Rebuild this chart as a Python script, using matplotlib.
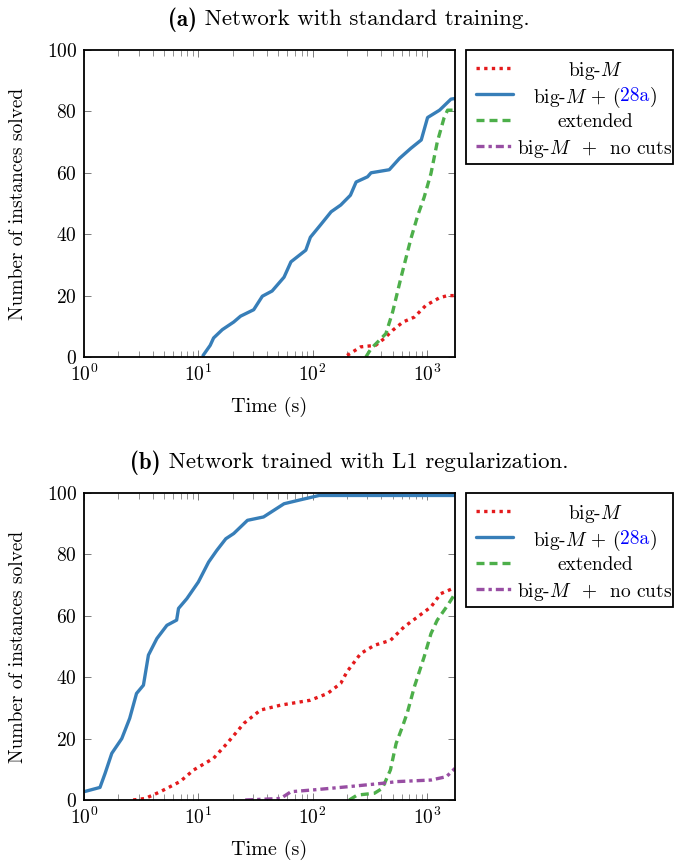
import matplotlib

matplotlib.use("Agg")

import matplotlib.pyplot as plt
from matplotlib.patches import Rectangle
from matplotlib.lines import Line2D

plt.rcParams["font.family"] = "cmr10"
plt.rcParams["mathtext.fontset"] = "cm"
plt.rcParams["axes.unicode_minus"] = False
plt.rcParams["axes.formatter.use_mathtext"] = True

# ---- data (time in seconds, number of instances solved) ----
# (a) standard training
a_bigm_t = [200, 263, 355, 422, 501, 617, 776, 977, 1288, 1514, 1758]
a_bigm_n = [0.5, 3.3, 3.8, 6, 8.7, 11.4, 13, 16.8, 19.3, 20, 20]

a_cut_t = [11.0, 12.7, 13.6, 16.2, 20.4, 23.4, 30.5, 36.3, 44.2, 56.2, 64.6, 87.1,
           95.5, 117, 145, 176, 214, 240, 302, 324, 468, 575, 724, 891, 1012,
           1288, 1622, 1758]
a_cut_n = [0.5, 3.8, 6.2, 8.9, 11.4, 13.3, 15.4, 19.8, 21.5, 26, 31, 34.8, 39, 43,
           47.3, 49.5, 52.7, 57, 58.7, 60, 61, 64.7, 68, 70.7, 78, 80.4, 84, 84.2]

a_ext_t = [292, 324, 437, 501, 589, 724, 832, 944, 1084, 1230, 1413, 1514, 1758]
a_ext_n = [0, 2.7, 7.6, 14.7, 25.5, 38.6, 46.2, 52, 59.8, 70, 78, 80.4, 80.4]

a_nocut_t = []
a_nocut_n = []

# (b) L1 regularization
b_bigm_t = [2.69, 3.43, 4.65, 6.92, 9.12, 13.6, 17.8, 25.1, 35.0, 52.5, 95.5, 135,
            176, 200, 263, 347, 479, 631, 832, 1084, 1318, 1758]
b_bigm_n = [0, 0.5, 2.7, 6, 9.8, 13.6, 18.4, 25, 29.3, 30.9, 32.5, 34.7, 38, 41.8,
            47.7, 50.4, 52, 56.4, 59.7, 62.9, 67.2, 69.2]

b_cut_t = [1.0, 1.38, 1.53, 1.75, 2.14, 2.51, 2.88, 3.31, 3.66, 4.34, 5.31, 6.46,
           6.71, 7.94, 10, 12.3, 14.5, 17.4, 20.4, 26.9, 37.2, 56.2, 78.5, 114, 1758]
b_cut_n = [2.7, 4.1, 8.7, 15.2, 20, 26.6, 34.7, 37.4, 47.2, 52.6, 56.9, 58.6, 62.4,
           65.6, 71, 77.5, 81.3, 85.1, 86.8, 91.1, 92.2, 96.5, 97.8, 99.2, 99.2]

b_ext_t = [209, 245, 347, 407, 479, 537, 617, 676, 776, 944, 1084, 1230, 1514, 1758]
b_ext_n = [0, 1.6, 2.2, 3.8, 9.8, 18.4, 24.4, 28.7, 36.9, 46.6, 54.2, 58.6, 63.4, 67.2]

b_nocut_t = [25.7, 52.5, 64.6, 102, 200, 398, 550, 1084, 1479, 1758]
b_nocut_n = [0, 0.5, 2.7, 3.3, 4.3, 5.4, 6, 6.5, 7.6, 10.3]

x_ticks = [1, 10, 100, 1000]
y_ticks = [0, 20, 40, 60, 80, 100]
x_max = 1758

RED = "#e41a1c"
BLUE = "#377eb8"
GREEN = "#4daf4a"
PURPLE = "#984ea3"
LW = 2.4
styles = [
    dict(color=RED, lw=LW, dashes=(1, 1.3)),
    dict(color=BLUE, lw=LW, solid_capstyle="round", solid_joinstyle="round"),
    dict(color=GREEN, lw=LW, dashes=(2.4, 1.5)),
    dict(color=PURPLE, lw=LW, dashes=(2.4, 1.2, 1, 1.2)),
]

W, H = 676, 867
fig = plt.figure(figsize=(W / 100, H / 100), dpi=100)
renderer = fig.canvas.get_renderer()
FS = 14


def px_ax(left, top, right, bottom):
    return fig.add_axes([left / W, 1 - bottom / H, (right - left) / W, (bottom - top) / H])


def put_parts(parts, xc, yc, size):
    """Place a row of differently styled text pieces centred at pixel (xc, yc)."""
    widths = []
    for p, kw in parts:
        t = fig.text(0, 0, p, fontsize=size, **kw)
        widths.append(t.get_window_extent(renderer).width)
        t.remove()
    x = xc - sum(widths) / 2
    for (p, kw), w in zip(parts, widths):
        fig.text(x / W, 1 - yc / H, p, fontsize=size, ha="left",
                 va="center_baseline", **kw)
        x += w


def setup(ax):
    ax.set_xscale("log")
    ax.set_xlim(1, x_max)
    ax.set_ylim(0, 100)
    ax.set_xticks(x_ticks)
    ax.set_yticks(y_ticks)
    ax.tick_params(which="both", direction="in", top=True, right=True,
                   labelsize=FS, color="#666666")
    ax.tick_params(which="major", length=5, width=0.6, pad=5)
    ax.tick_params(which="minor", length=4, width=0.5)
    for s in ax.spines.values():
        s.set_linewidth(1.3)
    ax.set_xlabel("Time (s)", fontsize=FS + 0.5, labelpad=8)
    ax.set_ylabel("Number of instances solved", fontsize=FS, labelpad=14)


def legend(top):
    left, right = 466, 673
    bottom = top + 114
    fig.patches.append(Rectangle((left / W, 1 - bottom / H), (right - left) / W,
                                 (bottom - top) / H, transform=fig.transFigure,
                                 fill=False, lw=1.3, ec="black"))
    rows = [["big-$M$"], ["big-$M$ + (", "28a", ")"], ["extended"],
            ["big-$M$  +  no cuts"]]
    for i, (pieces, st) in enumerate(zip(rows, styles)):
        yc = top + 18 + i * 26
        fig.lines.append(Line2D([476 / W, 513 / W], [1 - yc / H] * 2,
                                transform=fig.transFigure, **st))
        parts = [(p, dict(color="blue" if p == "28a" else "black")) for p in pieces]
        put_parts(parts, 595, yc, FS)


panels = [
    ("(a)", " Network with standard training.", 50, 357, 17,
     [(a_bigm_t, a_bigm_n), (a_cut_t, a_cut_n), (a_ext_t, a_ext_n), (a_nocut_t, a_nocut_n)]),
    ("(b)", " Network trained with L1 regularization.", 493, 800, 460,
     [(b_bigm_t, b_bigm_n), (b_cut_t, b_cut_n), (b_ext_t, b_ext_n), (b_nocut_t, b_nocut_n)]),
]

for tag, title, top, bottom, ty, series in panels:
    ax = px_ax(84, top, 455, bottom)
    setup(ax)
    for (t, n), st in zip(series, styles):
        ax.plot(t, n, **st)
    put_parts([(tag, dict(family="cmb10", fontweight="bold")), (title, {})], 349, ty, 16.5)
    legend(top)

fig.savefig("out.png", dpi=100)
